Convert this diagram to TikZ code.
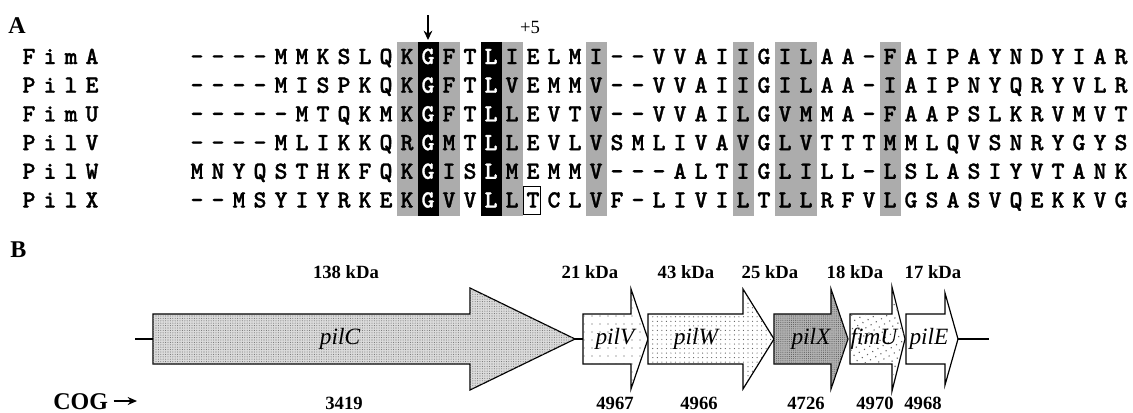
\documentclass[tikz,border=0pt]{standalone}
\usepackage{fontspec}
\setmainfont{Liberation Serif}
\newfontfamily\seqfont{lmmonolt10-bold.otf}[FakeBold=1.2]
\usetikzlibrary{arrows.meta,patterns.meta}
\definecolor{boxgray}{RGB}{172,172,172}

% one residue per node, 21 units apart; columns 11 and 14 are printed white
\newcount\rescol
\def\resrow#1#2#3#4{\def\restag{#1}\def\resy{#2}\global\rescol=#3\relax\resnext#4\relax}
\def\resnext#1{%
  \ifx\relax#1\else
    \ifnum\rescol=11 \def\rescolor{white}\else
      \ifnum\rescol=14 \def\rescolor{white}\else\def\rescolor{black}\fi\fi
    \node[res,text=\rescolor] (\restag\the\rescol) at ({197+21*\the\rescol},\resy) {#1};
    \global\advance\rescol by 1
    \expandafter\resnext
  \fi}

\begin{document}
\begin{tikzpicture}[x=0.75pt,y=-0.75pt,
res/.style={font=\seqfont\fontsize{18.5}{18.5}\selectfont,inner sep=0pt,anchor=base},
panel/.style={font=\bfseries\fontsize{18}{18}\selectfont,anchor=base west,inner sep=0pt},
kda/.style={font=\bfseries\fontsize{14}{14}\selectfont,inner sep=0pt},
cogno/.style={kda,anchor=base},
gname/.style={font=\itshape\fontsize{17.5}{17.5}\selectfont,inner sep=0pt},
gene/.style={draw,line width=0.9pt,line join=miter},
spine/.style={line width=1.2pt},
fC/.style={fill=black!14,postaction={pattern={Dots[distance=1.8pt,radius=0.4pt]},pattern color=black!55}},
fV/.style={fill=white,postaction={pattern={Dots[distance=6pt,radius=0.5pt]},pattern color=black!70}},
fW/.style={fill=white,postaction={pattern={Dots[distance=3.4pt,radius=0.45pt]},pattern color=black!65}},
fX/.style={fill=black!30,postaction={pattern={Dots[distance=1.6pt,radius=0.4pt]},pattern color=black!65}},
fU/.style={fill=white,postaction={pattern={Dots[distance=4.5pt,angle=30,radius=0.6pt]},pattern color=black!60}}]
\useasboundingbox (0,0) rectangle (1133,412);

% ---- A: alignment
\node[panel] (lblA) at (8,33) {A};
\foreach \c in {10,12,15,19,26,28,29,33}
  \fill[boxgray] ({186.5+21*\c},42) rectangle ++(21,173.5);
\foreach \c in {11,14}
  \fill[black] ({186.5+21*\c},42) rectangle ++(21,173.5);
\coordinate (cut) at (428,15);
\coordinate (cutend) at (428,40);
\draw[line width=1.3pt,-{Stealth[length=7pt,width=6.5pt]}] (cut) -- (cutend);
\node[font=\fontsize{14}{14}\selectfont,inner sep=0pt] (plus5) at (530,27) {+5};

\resrow{lab1}{64}{-8}{FimA}
\resrow{FimA}{64}{0}{----MMKSLQKGFTLIELMI--VVAIIGILAA-FAIPAYNDYIAR}
\resrow{lab2}{92.7}{-8}{PilE}
\resrow{PilE}{92.7}{0}{----MISPKQKGFTLVEMMV--VVAIIGILAA-IAIPNYQRYVLR}
\resrow{lab3}{121.4}{-8}{FimU}
\resrow{FimU}{121.4}{0}{-----MTQKMKGFTLLEVTV--VVAILGVMMA-FAAPSLKRVMVT}
\resrow{lab4}{150.1}{-8}{PilV}
\resrow{PilV}{150.1}{0}{----MLIKKQRGMTLLEVLVSMLIVAVGLVTTTMMLQVSNRYGYS}
\resrow{lab5}{178.8}{-8}{PilW}
\resrow{PilW}{178.8}{0}{MNYQSTHKFQKGISLMEMMV---ALTIGLILL-LSLASIYVTANK}
\resrow{lab6}{207.5}{-8}{PilX}
\resrow{PilX}{207.5}{0}{--MSYIYRKEKGVVLLTCLVF-LIVILTLLRFVLGSASVQEKKVG}
\node[draw,line width=0.6pt,minimum width=12.75pt,minimum height=21pt,inner sep=0pt] (tbox) at (532,200.5) {};

% ---- B: gene cluster
\node[panel] (lblB) at (10,257) {B};
\draw[spine] (135,339) -- (153,339);
\draw[spine] (575,339) -- (583,339);
\draw[spine] (958,339) -- (989,339);
\draw[gene,fC] (153,314) -- (470,314) -- (470,288) -- (575,339) -- (470,390) -- (470,364) -- (153,364) -- cycle;
\draw[gene,fV] (583,314) -- (631,314) -- (631,289) -- (648,339) -- (631,389) -- (631,364) -- (583,364) -- cycle;
\draw[gene,fW] (648,314) -- (743,314) -- (743,289) -- (774,339) -- (743,389) -- (743,364) -- (648,364) -- cycle;
\draw[gene,fX] (774,314) -- (831,314) -- (831,289) -- (848,339) -- (831,389) -- (831,364) -- (774,364) -- cycle;
\draw[gene,fU] (850,314) -- (892,314) -- (892,287) -- (905,339) -- (892,391) -- (892,364) -- (850,364) -- cycle;
\draw[gene,fill=white] (906,314) -- (945,314) -- (945,293) -- (958,339) -- (945,385) -- (945,364) -- (906,364) -- cycle;

\node[gname] (pilC) at (340,339) {pilC};
\node[gname] (pilV) at (615,339) {pilV};
\node[gname] (pilW) at (696,339) {pilW};
\node[gname] (pilX) at (811,339) {pilX};
\node[gname] (fimU) at (874,339) {fimU};
\node[gname] (pilE) at (929,339) {pilE};

\node[kda] (mC) at (346,272) {138 kDa};
\node[kda] (mV) at (590,272) {21 kDa};
\node[kda] (mW) at (686,272) {43 kDa};
\node[kda] (mX) at (770,272) {25 kDa};
\node[kda] (mU) at (855,272) {18 kDa};
\node[kda] (mE) at (933,272) {17 kDa};

\node[font=\bfseries\fontsize{18}{18}\selectfont,inner sep=0pt,anchor=base west] (cog) at (53,409) {COG};
\coordinate (cogend) at (137,401);
\draw[line width=1.1pt,-{Stealth[length=7pt,width=6pt]}] ([xshift=4pt]cog.east|-cogend) -- (cogend);
\node[cogno] (cC) at (344,409) {3419};
\node[cogno] (cV) at (615,409) {4967};
\node[cogno] (cW) at (699,409) {4966};
\node[cogno] (cX) at (806,409) {4726};
\node[cogno] (cU) at (875,409) {4970};
\node[cogno] (cE) at (923,409) {4968};
\end{tikzpicture}
\end{document}
